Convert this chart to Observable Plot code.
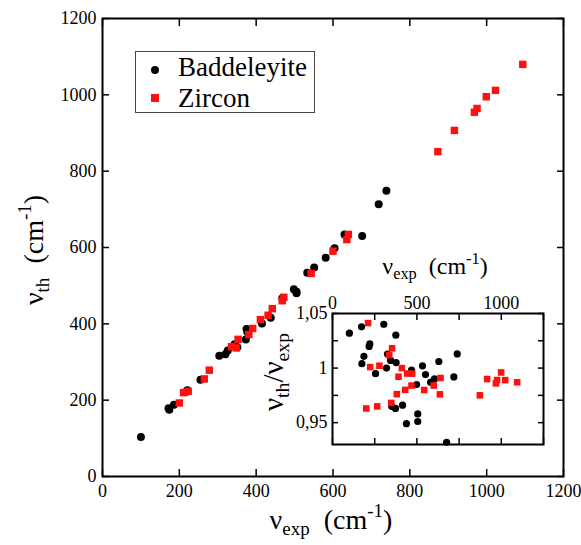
<!DOCTYPE html>
<html><head><meta charset="utf-8">
<script src="https://cdn.jsdelivr.net/npm/d3@7"></script>
<script src="https://cdn.jsdelivr.net/npm/@observablehq/plot@0.6"></script>
<style>
body{margin:0;background:#fff;}
#wrap{position:relative;width:581px;height:545px;overflow:hidden;font-family:'Liberation Serif',serif;color:#000;background:#fff;}
#wrap svg{position:absolute;overflow:visible;font-family:'Liberation Serif',serif !important;}
#wrap svg text{font-family:'Liberation Serif',serif !important;}
.lab{position:absolute;white-space:nowrap;line-height:1;font-family:'Liberation Serif',serif;}
.sub{position:relative;top:0.32em;font-size:0.68em;}
.sup{position:relative;top:-0.62em;font-size:0.68em;}
</style></head><body><div id="wrap"></div>
<script>
// Baddeleyite: experimental and theoretical frequencies (cm^-1)
const badExp = [100,172,174,186,217,221,255,304,320,326,344,351,373,375,377,415,438,468,498,505,505,533,551,581,604,630,676,719,739];
const badTh  = [103.2,178.5,174.7,188.0,221.3,225.9,253.7,316.2,320.0,330.2,346.4,338.7,359.2,386.3,378.9,400.9,415.7,467.1,490.5,483.8,480.3,534.1,547.7,573.4,598.0,633.8,630.0,713.2,748.6];
// Zircon
const zirExp = [200,211,223,265,278,336,348,353,381,391,411,431,442,468,472,543,600,636,640,873,916,968,975,999,1023,1094];
const zirTh  = [192.6,219.7,223.2,255.7,278.6,340.0,336.9,359.4,371.9,387.9,411.0,422.4,439.8,460.5,469.6,532.1,590.4,620.7,634.2,851.2,906.8,954.4,964.3,995.0,1011.7,1079.8];

const seriesNames = ["Baddeleyite","Zircon"];
const seriesColors = ["#000000","#ff1010"];
const mainTicks = [0,200,400,600,800,1000,1200];
const insetXTicks = [0,250,500,750,1000,1250];
const insetXLabels = [0,500,1000];
const insetYTicks = [0.95,0.975,1,1.025,1.05];
const insetYLabels = [0.95,1,1.05];

const bad = badExp.map((x,i)=>({exp:x, th:badTh[i], ratio:badTh[i]/x}));
const zir = zirExp.map((x,i)=>({exp:x, th:zirTh[i], ratio:zirTh[i]/x}));

const wrap = document.getElementById("wrap");
const font = "'Liberation Serif', serif";
const plain = d => String(d);

const main = Plot.plot({
  width:581, height:545,
  marginLeft:102, marginRight:18, marginTop:18, marginBottom:69,
  x:{domain:[0,1200]}, y:{domain:[0,1200]},
  style:{fontFamily:font, fontSize:"18px", color:"#000", background:"transparent"},
  marks:[
    Plot.axisX(mainTicks,{anchor:"bottom", tickSize:-7, tickFormat:()=>"", label:null, strokeWidth:1.5}),
    Plot.axisX(mainTicks,{anchor:"top", tickSize:-7, tickFormat:()=>"", label:null, strokeWidth:1.5}),
    Plot.axisY(mainTicks,{anchor:"left", tickSize:-7, tickFormat:()=>"", label:null, strokeWidth:1.5}),
    Plot.axisY(mainTicks,{anchor:"right", tickSize:-7, tickFormat:()=>"", label:null, strokeWidth:1.5}),
    Plot.axisX(mainTicks,{anchor:"bottom", tickSize:0, tickPadding:8, label:null, fontSize:18, tickFormat:plain}),
    Plot.axisY(mainTicks,{anchor:"left", tickSize:0, tickPadding:6, label:null, fontSize:18, tickFormat:plain}),
    Plot.frame({stroke:"#000", strokeWidth:2}),
    Plot.dot(bad,{x:"exp", y:"th", r:4, fill:seriesColors[0], symbol:"circle"}),
    Plot.dot(zir,{x:"exp", y:"th", r:4.2, fill:seriesColors[1], symbol:"square"})
  ]
});
main.style.left="0px"; main.style.top="0px";
wrap.appendChild(main);

const fmtY = d => d===1 ? "1" : String(d).replace(".",",");
const inset = Plot.plot({
  width:290, height:210,
  marginLeft:60, marginRight:19, marginTop:63, marginBottom:16,
  x:{domain:[0,1250]}, y:{domain:[0.93,1.05]},
  style:{fontFamily:font, fontSize:"18px", color:"#000", background:"transparent"},
  marks:[
    Plot.axisX(insetXTicks,{anchor:"bottom", tickSize:-6, tickFormat:()=>"", label:null, strokeWidth:1.5}),
    Plot.axisX(insetXTicks,{anchor:"top", tickSize:-6, tickFormat:()=>"", label:null, strokeWidth:1.5}),
    Plot.axisY(insetYTicks,{anchor:"left", tickSize:-6, tickFormat:()=>"", label:null, strokeWidth:1.5}),
    Plot.axisY(insetYTicks,{anchor:"right", tickSize:-6, tickFormat:()=>"", label:null, strokeWidth:1.5}),
    Plot.axisX(insetXLabels,{anchor:"top", tickSize:0, tickPadding:5, label:null, fontSize:18, tickFormat:plain}),
    Plot.axisY(insetYLabels,{anchor:"left", tickSize:0, tickPadding:5, label:null, fontSize:18, tickFormat:fmtY}),
    Plot.frame({stroke:"#000", strokeWidth:2}),
    Plot.dot(bad,{x:"exp", y:"ratio", r:3.6, fill:seriesColors[0], symbol:"circle"}),
    Plot.dot(zir,{x:"exp", y:"ratio", r:3.7, fill:seriesColors[1], symbol:"square"})
  ]
});
inset.style.left="272px"; inset.style.top="250px";
wrap.appendChild(inset);

function label(html, cx, cy, size, rotate){
  const d = document.createElement("div");
  d.className = "lab";
  d.innerHTML = html;
  d.style.fontSize = size+"px";
  d.style.left = cx+"px";
  d.style.top = cy+"px";
  d.style.transform = rotate ? "translate(-50%,-50%) rotate(-90deg)" : "translate(-50%,-50%)";
  wrap.appendChild(d);
}
// axis titles
label('ν<span class="sub">exp</span>&nbsp;&nbsp;(cm<span class="sup">-1</span>)', 331, 520, 28, false);
label('ν<span class="sub">th</span>&nbsp;&nbsp;(cm<span class="sup">-1</span>)', 33.5, 250, 28, true);
label('ν<span class="sub">exp</span>&nbsp;&nbsp;(cm<span class="sup">-1</span>)', 435, 266, 24, false);
label('ν<span class="sub">th</span>/ν<span class="sub">exp</span>', 273, 372, 29, true);

// legend
const lg = document.createElement("div");
lg.style.cssText = "position:absolute;left:135px;top:51px;width:180px;height:62px;border:1px solid #444;box-sizing:border-box;background:#fff;";
wrap.appendChild(lg);
const markers = [
  {top:70, shape:"circle", size:8},
  {top:98, shape:"square", size:8}
];
const baselines = [77,108];
seriesNames.forEach((name,i)=>{
  const m = document.createElement("div");
  const s = markers[i].size;
  m.style.cssText = `position:absolute;left:${155-s/2}px;top:${markers[i].top-s/2}px;width:${s}px;height:${s}px;background:${seriesColors[i]};border-radius:${markers[i].shape==="circle"?"50%":"0"};`;
  wrap.appendChild(m);
  const t = document.createElement("div");
  t.className = "lab";
  t.textContent = name;
  t.style.fontSize = "27px";
  t.style.left = "178px";
  t.style.top = (baselines[i] - 0.8375*27) + "px";
  wrap.appendChild(t);
});
</script>
</body></html>
